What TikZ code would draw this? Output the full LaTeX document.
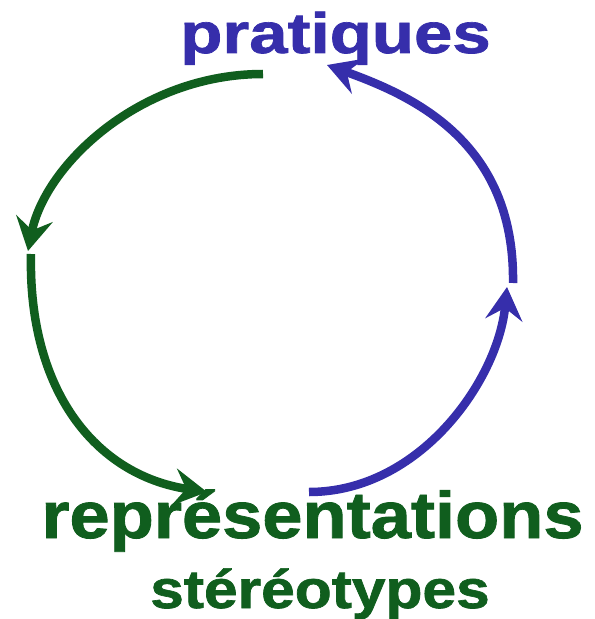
\documentclass[tikz,border=0pt]{standalone}
\usepackage{fontspec}
\setmainfont{Liberation Sans}[BoldFeatures={FakeBold=1.2}]
\usetikzlibrary{arrows.meta}
\definecolor{cblue}{RGB}{54,46,171}
\definecolor{cgreen}{RGB}{16,94,30}
\begin{document}
\begin{tikzpicture}[x=1bp,y=-1bp,
  arcline/.style={line width=8.5bp,-{Stealth[length=33bp,width=37bp,inset=12bp]}},
  garc/.style={arcline,draw=cgreen,fill=none},
  barc/.style={arcline,draw=cblue,fill=none},
  lbl/.style={anchor=base,inner sep=0pt,font=\bfseries}]
\useasboundingbox (0,0) rectangle (595,619);
% end points of the four arcs
\coordinate (g1s) at (263,74);
\coordinate (g1e) at (28,251);
\coordinate (g2s) at (31,254);
\coordinate (g2e) at (207,492);
\coordinate (b1s) at (309,492);
\coordinate (b1e) at (507,287);
\coordinate (b2s) at (513,283);
\coordinate (b2e) at (327,65);
% arcs
\draw[garc] (g1s) .. controls (140,74) and (45,165) .. (g1e);
\draw[garc] (g2s) .. controls (28,390) and (95,475) .. (g2e);
\draw[barc] (b1s) .. controls (420,492) and (498,380) .. (b1e);
\draw[barc] (b2s) .. controls (515,140) and (410,95) .. (b2e);
% labels
\node[lbl,text=cblue,font=\bfseries\fontsize{57bp}{57bp}\selectfont] (prat) at (335.5,53) {\scalebox{1.21}[1]{pratiques}};
\node[lbl,text=cgreen,font=\bfseries\fontsize{66bp}{66bp}\selectfont] (repr) at (312.5,538) {\scalebox{1.095}[1]{représentations}};
\node[lbl,text=cgreen,font=\bfseries\fontsize{54bp}{54bp}\selectfont] (ster) at (320,608) {\scalebox{1.12}[1]{stéréotypes}};
\end{tikzpicture}
\end{document}
